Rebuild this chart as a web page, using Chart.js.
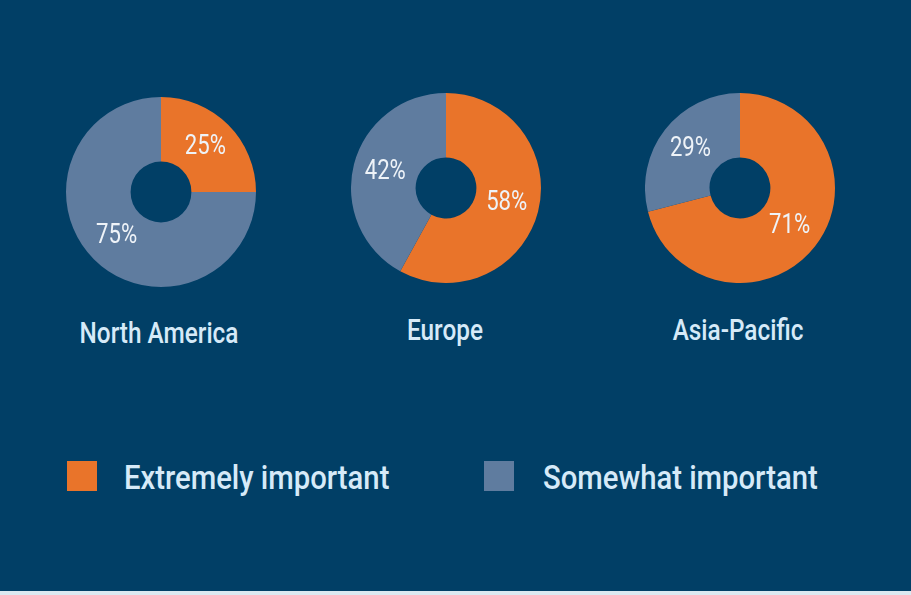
<!DOCTYPE html>
<html>
<head>
<meta charset="utf-8">
<script src="https://cdn.jsdelivr.net/npm/chart.js@4"></script>
<style>
  html, body { margin: 0; padding: 0; }
  body {
    width: 911px; height: 595px; overflow: hidden; position: relative;
    background: #013f66;
    font-family: Roboto, "Noto Sans", sans-serif;
  }
  .strip { position: absolute; left: 0; top: 591px; width: 911px; height: 4px; background: #dce9f1; }
  .pie { position: absolute; }
  .region {
    position: absolute; transform: translate(-50%, -50%) scaleX(0.84);
    color: #d6eaf8; font-size: 29px; font-weight: 500; white-space: nowrap;
  }
  .sw { position: absolute; width: 30px; height: 30px; top: 461px; }
  .lg {
    position: absolute; top: 477px; transform-origin: left center;
    transform: translateY(-50%) scaleX(0.86);
    color: #d6eaf8; font-size: 34px; font-weight: 500; white-space: nowrap;
  }
</style>
</head>
<body>
<div class="strip"></div>
<canvas id="pie0" class="pie" width="190" height="190" style="left:66px;top:97px"></canvas>
<canvas id="pie1" class="pie" width="190" height="190" style="left:351px;top:93px"></canvas>
<canvas id="pie2" class="pie" width="190" height="190" style="left:645px;top:93px"></canvas>
<div id="region0" class="region" style="left:159px;top:333px"></div>
<div id="region1" class="region" style="left:445px;top:330px"></div>
<div id="region2" class="region" style="left:738px;top:330px"></div>
<div class="sw" style="left:67px;background:#e9742a"></div>
<div id="lg0" class="lg" style="left:124px"></div>
<div class="sw" style="left:484px;background:#5f7c9f"></div>
<div id="lg1" class="lg" style="left:543px"></div>

<script>
// data
const regions = ['North America', 'Europe', 'Asia-Pacific'];
const seriesNames = ['Extremely important', 'Somewhat important'];
const extremely = [25, 58, 71];
const somewhat = [75, 42, 29];

const ORANGE = '#e9742a';
const SLATE = '#5f7c9f';

// percent labels at each arc's centre point, squeezed to look condensed
const pctLabels = {
  id: 'pctLabels',
  afterDatasetsDraw(chart) {
    const ctx = chart.ctx;
    const meta = chart.getDatasetMeta(0);
    const vals = chart.data.datasets[0].data;
    ctx.save();
    ctx.font = '27px Roboto, "Noto Sans", sans-serif';
    ctx.fillStyle = '#eef3f8';
    ctx.textAlign = 'center';
    ctx.textBaseline = 'middle';
    meta.data.forEach((arc, i) => {
      const p = arc.getCenterPoint();
      ctx.save();
      ctx.translate(p.x, p.y);
      ctx.scale(0.82, 1);
      ctx.fillText(vals[i] + '%', 0, 0);
      ctx.restore();
    });
    ctx.restore();
  }
};

regions.forEach((name, i) => {
  document.getElementById('region' + i).textContent = name;
  new Chart(document.getElementById('pie' + i), {
    type: 'doughnut',
    data: {
      labels: seriesNames,
      datasets: [{
        data: [extremely[i], somewhat[i]],
        backgroundColor: [ORANGE, SLATE],
        borderWidth: 0
      }]
    },
    options: {
      responsive: false,
      animation: false,
      devicePixelRatio: 1,
      cutout: '32%',
      layout: { padding: 0 },
      plugins: { legend: { display: false }, tooltip: { enabled: false } }
    },
    plugins: [pctLabels]
  });
});

document.getElementById('lg0').textContent = seriesNames[0];
document.getElementById('lg1').textContent = seriesNames[1];
</script>
</body>
</html>
